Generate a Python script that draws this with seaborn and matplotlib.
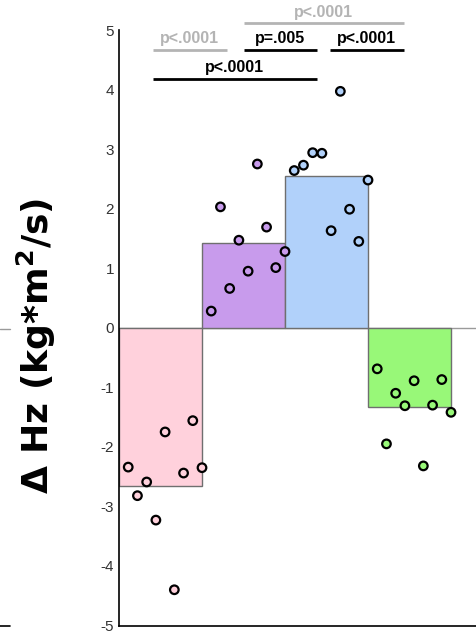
import numpy as np
import pandas as pd
import matplotlib
matplotlib.use("Agg")
import matplotlib.pyplot as plt
import seaborn as sns

# --- data -------------------------------------------------------------
groups = ["G1", "G2", "G3", "G4"]
bar_means = [-2.65, 1.43, 2.55, -1.33]

g1_vals = [-2.34, -2.82, -2.59, -3.23, -1.75, -4.40, -2.44, -1.56, -2.35]
g2_vals = [0.28, 2.03, 0.66, 1.47, 0.95, 2.75, 1.69, 1.01, 1.28]
g3_vals = [2.64, 2.73, 2.94, 2.93, 1.63, 3.97, 1.99, 1.45, 2.48]
g4_vals = [-0.69, -1.95, -1.10, -1.31, -0.89, -2.32, -1.30, -0.87, -1.42]

colors = ["#ffd1dc", "#c89bec", "#b1d1fa", "#98f878"]

# significance brackets: (x start, x end, height, label, colour)
brackets = [
    (-0.09, 0.80, 4.67, "p<.0001", "#b4b4b4"),
    (1.00, 1.88, 4.67, "p=.005", "black"),
    (2.04, 2.93, 4.67, "p<.0001", "black"),
    (1.00, 2.93, 5.11, "p<.0001", "#b4b4b4"),
    (-0.09, 1.88, 4.18, "p<.0001", "black"),
]

# --- tables -------------------------------------------------------------
df_bars = pd.DataFrame({"group": groups, "delta": bar_means})

rows = []
for gi, (g, vals) in enumerate(zip(groups, [g1_vals, g2_vals, g3_vals, g4_vals])):
    n = len(vals)
    for k, v in enumerate(vals):
        # points spread evenly across the width of their bar
        rows.append({"group": g, "xpos": gi - 0.5 + (k + 1) / n, "delta": v})
df_pts = pd.DataFrame(rows)

# --- figure -------------------------------------------------------------
sns.set_style("white")
plt.rcParams["axes.unicode_minus"] = False
plt.rcParams["font.family"] = ["Liberation Sans", "DejaVu Sans"]

fig = plt.figure(figsize=(4.77, 6.32), dpi=100)
ax = fig.add_axes([119 / 477, 1 - 625.5 / 632, 358 / 477, (625.5 - 30) / 632])

ax.axhline(0, color="#9a9a9a", lw=1.0, zorder=0)

sns.barplot(data=df_bars, x="group", y="delta", hue="group", palette=colors,
            order=groups, width=1.0, saturation=1, edgecolor="#6f6f6f",
            linewidth=1.0, legend=False, ax=ax, zorder=1)

sns.scatterplot(data=df_pts, x="xpos", y="delta", hue="group", palette=colors,
                s=38, edgecolor="black", linewidth=1.6, legend=False, ax=ax,
                zorder=3, clip_on=False)

for x0, x1, y, label, col in brackets:
    ax.plot([x0, x1], [y, y], color=col, lw=2.0, clip_on=False,
            solid_capstyle="butt")
    ax.text((x0 + x1) / 2, y + 0.06, label, ha="center", va="bottom",
            fontsize=11.5, fontweight="bold", color=col)

ax.set_xlim(-0.5, 3.813)
ax.set_ylim(-5, 5)
ax.set_yticks(np.arange(-5, 6, 1))
ax.set_yticklabels([str(v) for v in range(-5, 6)])
ax.set_xticks([1])
ax.set_xticklabels([""])
ax.set_xlabel("")
ax.set_ylabel("")

ax.tick_params(axis="y", direction="out", length=2.5, width=0.8,
               color="#666666", labelsize=11, labelcolor="#333333", pad=1)
ax.tick_params(axis="x", direction="in", length=8, width=1.2,
               color="#666666")

for side in ["top", "right"]:
    ax.spines[side].set_visible(False)
for side in ["left", "bottom"]:
    ax.spines[side].set_color("black")
    ax.spines[side].set_linewidth(1.2)

fig.text(36 / 477, 1 - 346 / 632, "Δ Hz (kg*m$^\\mathbf{2}$/s)", rotation=90,
         ha="center", va="center", fontsize=26, fontweight="bold",
         family="DejaVu Sans", color="black")

# short stubs of the zero line and baseline at the far left edge
fig.add_artist(plt.Line2D([0, 10 / 477], [1 - 328.5 / 632] * 2,
                          color="#9a9a9a", lw=1.0))
fig.add_artist(plt.Line2D([0, 10 / 477], [1 - 625.5 / 632] * 2,
                          color="black", lw=1.2))

fig.savefig("out.png", dpi=100)
